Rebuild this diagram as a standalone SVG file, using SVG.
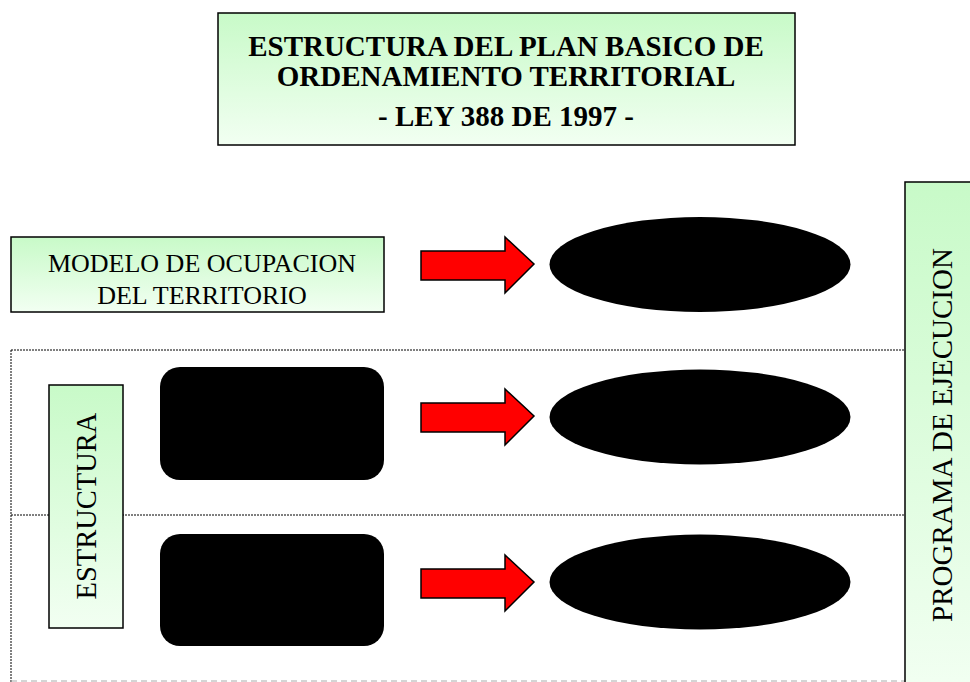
<svg xmlns="http://www.w3.org/2000/svg" width="970" height="682" viewBox="0 0 970 682">
<defs>
<linearGradient id="g" x1="0" y1="0" x2="0" y2="1">
<stop offset="0" stop-color="#c8fac8"/>
<stop offset="1" stop-color="#f2fff2"/>
</linearGradient>
<path id="arrow" d="M0,14 H84 V0 L113,27 L84,56 V43 H0 Z"/>
</defs>
<style>
.box{stroke:#000;stroke-width:1.5}
.t{font-family:"Liberation Serif","Times New Roman",serif;fill:#000;text-anchor:middle}
.b{font-weight:bold;font-size:29px}
.r{font-size:26px}
.arr{fill:#ff0000;stroke:#000;stroke-width:1.5}
.blk{fill:#000}
.dot{stroke:#000;stroke-width:1;stroke-dasharray:2,1;fill:none}
</style>
<rect width="970" height="682" fill="#fff"/>
<g id="connectors">
<line class="dot" x1="11" y1="350" x2="905" y2="350"/>
<line class="dot" x1="11" y1="515" x2="905" y2="515"/>
<line class="dot" x1="11" y1="350" x2="11" y2="682"/>
<line x1="11" y1="681" x2="905" y2="681" stroke="#aaa" stroke-width="1" stroke-dasharray="6,4"/>
<use href="#arrow" class="arr" x="421" y="237"/>
<use href="#arrow" class="arr" x="421" y="389"/>
<use href="#arrow" class="arr" x="421" y="555"/>
</g>
<g id="title">
<rect class="box" x="218" y="13" width="577" height="132" fill="url(#g)"/>
<text class="t b" x="506" y="56">ESTRUCTURA DEL PLAN BASICO DE</text>
<text class="t b" x="506" y="86">ORDENAMIENTO TERRITORIAL</text>
<text class="t b" x="506" y="126">- LEY 388 DE 1997 -</text>
</g>
<g id="modelo">
<rect class="box" x="11" y="237" width="373" height="75" fill="url(#g)"/>
<text class="t r" x="202" y="272">MODELO DE OCUPACION</text>
<text class="t r" x="202" y="304">DEL TERRITORIO</text>
</g>
<g id="estructura">
<rect class="box" x="49" y="385" width="74" height="243" fill="url(#g)"/>
<text class="t" font-size="28.5" transform="translate(96,506) rotate(-90)">ESTRUCTURA</text>
</g>
<g id="programa">
<rect class="box" x="905" y="182" width="70" height="510" fill="url(#g)"/>
<text class="t" font-size="29" transform="translate(952,435) rotate(-90)">PROGRAMA DE EJECUCION</text>
</g>
<g id="rect1"><rect class="blk" x="160" y="367" width="224" height="113" rx="20"/></g>
<g id="rect2"><rect class="blk" x="160" y="534" width="224" height="112" rx="20"/></g>
<g id="ellipse1"><ellipse class="blk" cx="700" cy="264.5" rx="150.5" ry="47.5"/></g>
<g id="ellipse2"><ellipse class="blk" cx="700" cy="417" rx="150.5" ry="47.5"/></g>
<g id="ellipse3"><ellipse class="blk" cx="700" cy="582" rx="150.5" ry="47.5"/></g>
</svg>
